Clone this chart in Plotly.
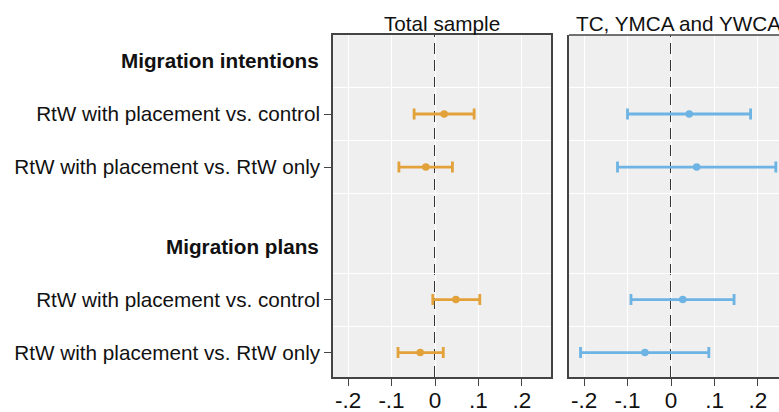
import plotly.graph_objects as go

# ---------------- data ----------------
groups = ["Migration intentions", "Migration plans"]
comparisons = ["RtW with placement vs. control", "RtW with placement vs. RtW only"]
panels = ["Total sample", "TC, YMCA and YWCA"]
tick_vals = [-0.2, -0.1, 0, 0.1, 0.2]
tick_labels = ["-.2", "-.1", "0", ".1", ".2"]

# order: intentions/control, intentions/RtW only, plans/control, plans/RtW only
total_est = [0.021, -0.021, 0.048, -0.034]
total_lo = [-0.048, -0.083, -0.005, -0.085]
total_hi = [0.090, 0.040, 0.103, 0.019]

tc_est = [0.042, 0.059, 0.027, -0.060]
tc_lo = [-0.100, -0.123, -0.092, -0.208]
tc_hi = [0.183, 0.241, 0.145, 0.087]

colors = ["#E3A13A", "#6DB3E3"]

# ---------------- layout helpers ----------------
W, H = 779, 412
FONT = "Liberation Sans, Arial, sans-serif"
FS = 20.7
group_step = len(comparisons) + 1.5
header_pos = [g * group_step for g in range(len(groups))]
row_pos = [h + 1 + j for h in header_pos for j in range(len(comparisons))]
row_text = [c for _ in groups for c in comparisons]
grid_pos = [h + 0.5 + j for h in header_pos for j in range(len(comparisons) + 1)]

fig = go.Figure()

series = [(total_est, total_lo, total_hi), (tc_est, tc_lo, tc_hi)]
for i, (est, lo, hi) in enumerate(series):
    fig.add_trace(go.Scatter(
        x=est, y=row_pos, mode="markers",
        marker=dict(color=colors[i], size=7.5),
        error_x=dict(type="data", symmetric=False,
                     array=[h - e for h, e in zip(hi, est)],
                     arrayminus=[e - l for e, l in zip(est, lo)],
                     color=colors[i], thickness=2.8, width=5.5),
        xaxis="x" if i == 0 else "x2", yaxis="y" if i == 0 else "y2",
        showlegend=False, hoverinfo="skip"))

left_dom = [333 / W, 551 / W]
right_dom = [569 / W, 1.0]
yrange = [5.96, -0.49]

xcommon = dict(tickvals=tick_vals, ticktext=tick_labels, ticks="outside", ticklen=7,
               tickcolor="#444", tickwidth=1.2, showgrid=True, gridcolor="#ffffff",
               gridwidth=1, zeroline=False, showline=True, linecolor="#444",
               linewidth=1.5, ticklabelstandoff=-5,
               tickfont=dict(family=FONT, size=22.5, color="#111"))

fig.update_layout(
    width=W, height=H,
    margin=dict(l=0, r=0, t=35, b=35, autoexpand=False),
    paper_bgcolor="white", plot_bgcolor="#efefef",
    xaxis=dict(domain=left_dom, range=[-0.2345, 0.2667], mirror=True, anchor="y", **xcommon),
    xaxis2=dict(domain=right_dom, range=[-0.2345, 0.2483], mirror=False, anchor="y2", **xcommon),
    yaxis=dict(range=yrange, tickvals=row_pos, ticktext=row_text, ticks="outside",
               ticklen=7, tickcolor="#444", tickwidth=1.2, showgrid=False, zeroline=False,
               showline=True, linecolor="#444", linewidth=1.5, mirror=True,
               tickfont=dict(family=FONT, size=FS, color="#111"), anchor="x",
               minor=dict(tickvals=grid_pos, showgrid=True, gridcolor="#ffffff",
                          gridwidth=1, ticks="")),
    yaxis2=dict(range=yrange, showticklabels=False, ticks="", showgrid=False,
                zeroline=False, showline=True, linecolor="#444", linewidth=1.5,
                anchor="x2",
                minor=dict(tickvals=grid_pos, showgrid=True, gridcolor="#ffffff",
                           gridwidth=1, ticks="")),
)

# top border for right panel
fig.add_shape(type="line", xref="x2 domain", yref="y2 domain", x0=0, x1=1.05, y0=1, y1=1,
              line=dict(color="#444", width=1.5))

# dashed zero reference lines
for xr, yr in (("x", "y domain"), ("x2", "y2 domain")):
    fig.add_shape(type="line", xref=xr, yref=yr, x0=0, x1=0, y0=0, y1=1,
                  line=dict(color="#222", width=1.8, dash="11px,6px"), layer="below")

# group headers
for g, h in zip(groups, header_pos):
    fig.add_annotation(text="<b>%s</b>" % g, xref="paper", yref="y", x=321 / W, y=h,
                       xanchor="right", yanchor="middle", showarrow=False,
                       font=dict(family=FONT, size=FS, color="#111"))

# panel titles
centers = [(333 + 551) / 2 / W, (569 + 787) / 2 / W]
for t, cx in zip(panels, centers):
    fig.add_annotation(text=t, xref="paper", yref="paper", x=cx, y=1, xanchor="center",
                       yanchor="bottom", showarrow=False, yshift=-2,
                       font=dict(family=FONT, size=FS, color="#111"))

fig.write_html("out.html", config={"displayModeBar": False},
               post_script="document.body.style.margin='0';document.body.style.overflow='hidden';")
